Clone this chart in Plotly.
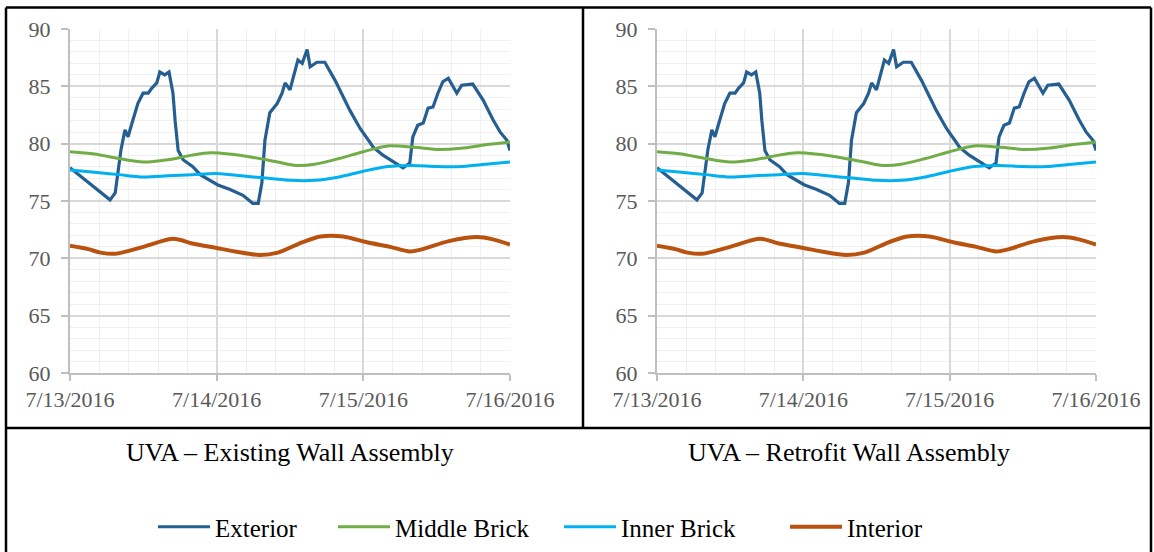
import pandas as pd
import plotly.graph_objects as go

# ---------------- data (hours after 7/13/2016 00:00, temperature °F) ----------------
exterior_hours = [0, 1.6, 3.3, 4.9, 6.55, 7.4, 7.85, 8.35, 9.0, 9.5, 10.15, 11.1, 11.95, 12.8, 13.4,
                  14.2, 14.7, 15.5, 16.2, 16.85, 17.2, 17.7, 18.5, 20.1, 21.3, 22.9, 24.2, 26.2, 28.3,
                  29.9, 30.8, 31.4, 31.9, 32.7, 33.9, 34.7, 35.2, 36.0, 36.8, 37.3, 38.0, 38.8, 39.3,
                  40.4, 41.7, 43.4, 45.8, 47.5, 49.1, 49.6, 51.2, 52.9, 54.5, 55.6, 56.1, 56.9, 57.8,
                  58.6, 59.4, 60.2, 61.0, 61.9, 62.7, 63.3, 64.1, 65.9, 67.6, 69.2, 70.4, 71.5, 72]
exterior_vals = [77.9, 77.2, 76.5, 75.8, 75.1, 75.7, 77.7, 79.5, 81.2, 80.6, 81.8, 83.5, 84.4, 84.4, 84.85,
                 85.3, 86.25, 86.0, 86.25, 84.4, 82.0, 79.4, 78.6, 78.0, 77.3, 76.8, 76.4, 76.0, 75.5,
                 74.8, 74.8, 76.6, 80.3, 82.7, 83.5, 84.4, 85.3, 84.7, 86.4, 87.3, 87.0, 88.2, 86.7,
                 87.1, 87.1, 85.5, 82.9, 81.3, 80.1, 79.7, 79.0, 78.4, 77.9, 78.3, 80.6, 81.6, 81.8,
                 83.1, 83.2, 84.4, 85.4, 85.7, 84.9, 84.4, 85.1, 85.2, 83.8, 82.1, 81.0, 80.3, 79.4]

middle_hours = [0, 4, 8, 12, 16, 20, 23, 26, 30, 34, 37, 40, 44, 48, 52, 56, 60, 64, 68, 72]
middle_vals = [79.3, 79.1, 78.7, 78.4, 78.6, 79.0, 79.2, 79.1, 78.8, 78.4, 78.1, 78.2, 78.7, 79.3,
               79.8, 79.7, 79.5, 79.6, 79.9, 80.15]

inner_hours = [0, 4, 8, 12, 16, 20, 24, 28, 32, 36, 40, 44, 48, 52, 56, 60, 64, 68, 72]
inner_vals = [77.7, 77.5, 77.3, 77.1, 77.2, 77.3, 77.4, 77.2, 77.0, 76.8, 76.8, 77.1, 77.6, 78.0,
              78.1, 78.0, 78.0, 78.2, 78.4]

interior_hours = [0, 3, 5, 7.4, 12, 16.9, 20, 24, 27, 31, 34, 38, 41, 44.7, 48.6, 52.4, 55.6, 57.7,
                  62, 66.6, 69.2, 72]
interior_vals = [71.1, 70.8, 70.5, 70.4, 71.0, 71.7, 71.3, 70.9, 70.6, 70.3, 70.5, 71.4, 71.9, 71.9,
                 71.4, 71.0, 70.6, 70.8, 71.5, 71.85, 71.65, 71.2]

series_names = ["Exterior", "Middle Brick", "Inner Brick", "Interior"]
series_colors = ["#255E91", "#70AD47", "#00B0F0", "#B9520E"]
panel_titles = ["UVA \u2013 Existing Wall Assembly", "UVA \u2013 Retrofit Wall Assembly"]
x_tick_labels = ["7/13/2016", "7/14/2016", "7/15/2016", "7/16/2016"]

start = pd.Timestamp("2016-07-13")


def to_dt(hours):
    return [start + pd.Timedelta(hours=h) for h in hours]


series = [
    (exterior_hours, exterior_vals, 3.2, "linear"),
    (middle_hours, middle_vals, 3.0, "spline"),
    (inner_hours, inner_vals, 3.0, "spline"),
    (interior_hours, interior_vals, 4.0, "spline"),
]

W, H = 1154, 552


def px(x):
    return x / W


def py(y):
    return 1 - y / H


SERIF = "Liberation Serif, Times New Roman, serif"

fig = go.Figure()
legend_ids = ["legend", "legend2", "legend3", "legend4"]
for panel in range(2):
    xa = "x" if panel == 0 else "x2"
    ya = "y" if panel == 0 else "y2"
    for i, (hrs, vals, lw, shape) in enumerate(series):
        fig.add_trace(go.Scatter(
            x=to_dt(hrs), y=vals, mode="lines", name=series_names[i],
            line=dict(color=series_colors[i], width=lw, shape=shape, smoothing=0.8 if shape == "spline" else None),
            xaxis=xa, yaxis=ya, showlegend=(panel == 0), legend=legend_ids[i],
        ))

tick_font = dict(family=SERIF, size=22, color="#595959")
tickvals = [start + pd.Timedelta(days=d) for d in range(4)]

xaxis_common = dict(
    type="date", range=[tickvals[0], tickvals[-1]], tickvals=tickvals, ticktext=x_tick_labels,
    showgrid=True, gridcolor="#D9D9D9", gridwidth=1.5,
    minor=dict(dtick=4.8 * 3600 * 1000, showgrid=True, gridcolor="#F0F0F0", gridwidth=1),
    showline=True, linecolor="#BFBFBF", linewidth=2, ticks="outside", ticklen=6,
    tickcolor="#BFBFBF", tickwidth=2, tickfont=tick_font, zeroline=False, fixedrange=True,
    automargin=False,
)
yaxis_common = dict(
    range=[60, 90], dtick=5, showgrid=True, gridcolor="#D9D9D9", gridwidth=1.5,
    minor=dict(dtick=1, showgrid=True, gridcolor="#F0F0F0", gridwidth=1),
    showline=True, linecolor="#BFBFBF", linewidth=2, ticks="outside", ticklen=7,
    tickcolor="#BFBFBF", tickwidth=2, tickfont=tick_font, zeroline=False, fixedrange=True,
    ticklabelstandoff=6, automargin=False,
)

ydom = [py(373), py(29)]
fig.update_layout(
    width=W, height=H, margin=dict(l=0, r=0, t=0, b=0, pad=0, autoexpand=False),
    paper_bgcolor="white", plot_bgcolor="white",
    xaxis=dict(domain=[px(70), px(510)], anchor="y", **xaxis_common),
    yaxis=dict(domain=ydom, anchor="x", **yaxis_common),
    xaxis2=dict(domain=[px(657), px(1096)], anchor="y2", **xaxis_common),
    yaxis2=dict(domain=ydom, anchor="x2", **yaxis_common),
)

legend_font = dict(family=SERIF, size=25, color="black")
legend_text_x = [216, 396, 622, 848]
for i, lid in enumerate(legend_ids):
    fig.update_layout({lid: dict(
        x=px(legend_text_x[i] - 63), y=py(527), xanchor="left", yanchor="middle",
        orientation="h", font=legend_font, bgcolor="rgba(0,0,0,0)", borderwidth=0,
        itemwidth=52,
    )})

for cx, title in zip([290, 849], panel_titles):
    fig.add_annotation(x=px(cx), y=py(452), xref="paper", yref="paper", text=title,
                       showarrow=False, xanchor="center", yanchor="middle",
                       font=dict(family=SERIF, size=26, color="black"))

# table borders
border = dict(color="black", width=2.5)
for (x0, y0, x1, y1) in [(6, 7.5, 1151, 7.5), (6, 7.5, 6, 552), (1151, 7.5, 1151, 552),
                         (6, 428, 1151, 428), (583, 7.5, 583, 428)]:
    fig.add_shape(type="line", xref="paper", yref="paper", x0=px(x0), y0=py(y0), x1=px(x1), y1=py(y1),
                  line=border, layer="above")

fig.write_html("out.html", config={"displayModeBar": False},
               post_script="document.body.style.margin='0';")
